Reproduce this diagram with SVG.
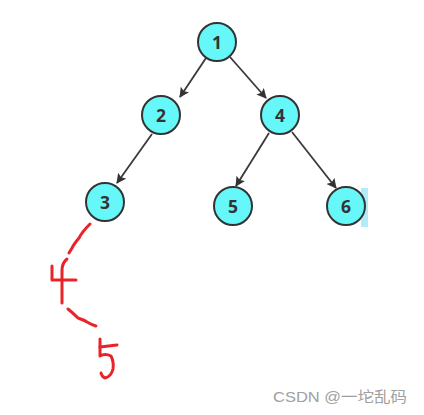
<svg xmlns="http://www.w3.org/2000/svg" width="424" height="415" viewBox="0 0 424 415">
<style>
.node circle{fill:#66f8f9;stroke:#333;stroke-width:2}
.node text{font-family:"Open Sans","Liberation Sans",sans-serif;font-weight:bold;font-size:17.5px;fill:#333;text-anchor:middle;dominant-baseline:central}
.edge{stroke:#3a3a3a;stroke-width:1.8;fill:none;marker-end:url(#arr)}
.red{stroke:#e8242a;stroke-width:3;fill:none;stroke-linecap:round;stroke-linejoin:round}
.wm{font-family:"Liberation Sans","Noto Sans CJK SC",sans-serif;font-size:15px;fill:#a0a0a0}
</style>
<defs>
<marker id="arr" viewBox="0 0 10 10" refX="9" refY="5" markerWidth="10" markerHeight="10" markerUnits="userSpaceOnUse" orient="auto">
<path d="M0,0 L10,5 L0,10 L2,5 Z" fill="#333"/>
</marker>
</defs>
<rect width="424" height="415" fill="#fff"/>
<rect x="361" y="188" width="7" height="39" fill="#b3ecf9"/>
<g id="connectors">
<line class="edge" x1="206" y1="58" x2="180" y2="97"/>
<line class="edge" x1="230" y1="57" x2="266" y2="98"/>
<line class="edge" x1="152" y1="134" x2="117" y2="183"/>
<line class="edge" x1="269" y1="133" x2="236" y2="186"/>
<line class="edge" x1="292" y1="132" x2="336" y2="188"/>
</g>
<g id="n1" class="node"><circle cx="217" cy="42" r="19"/><text x="217" y="42">1</text></g>
<g id="n2" class="node"><circle cx="161" cy="115" r="19"/><text x="161" y="115">2</text></g>
<g id="n4" class="node"><circle cx="280" cy="115" r="19"/><text x="280" y="115">4</text></g>
<g id="n3" class="node"><circle cx="105" cy="202" r="19"/><text x="105" y="202">3</text></g>
<g id="n5" class="node"><circle cx="233" cy="206" r="19"/><text x="233" y="206">5</text></g>
<g id="n6" class="node"><circle cx="346" cy="206" r="19"/><text x="346" y="206">6</text></g>
<g id="scribble">
<path class="red" d="M90,224 Q82,232 79,238 Q74,244 72,248 L69,253"/>
<path class="red" d="M52,266 L52,280 L76,280"/>
<path class="red" d="M67,259 Q62,263 62,270 L62,303"/>
<path class="red" d="M68,309 Q73,313 78,318 Q84,320 87,322 Q92,325 96,326"/>
<path class="red" d="M100,339 L100,356 Q105,353 111,356 Q114,362 113,369 Q111,377 105,378 Q102,377 101,373"/>
<path class="red" d="M100,347 L117,345"/>
</g>
<text class="wm" x="273" y="402" textLength="134" lengthAdjust="spacingAndGlyphs">CSDN @一坨乱码</text>
</svg>
